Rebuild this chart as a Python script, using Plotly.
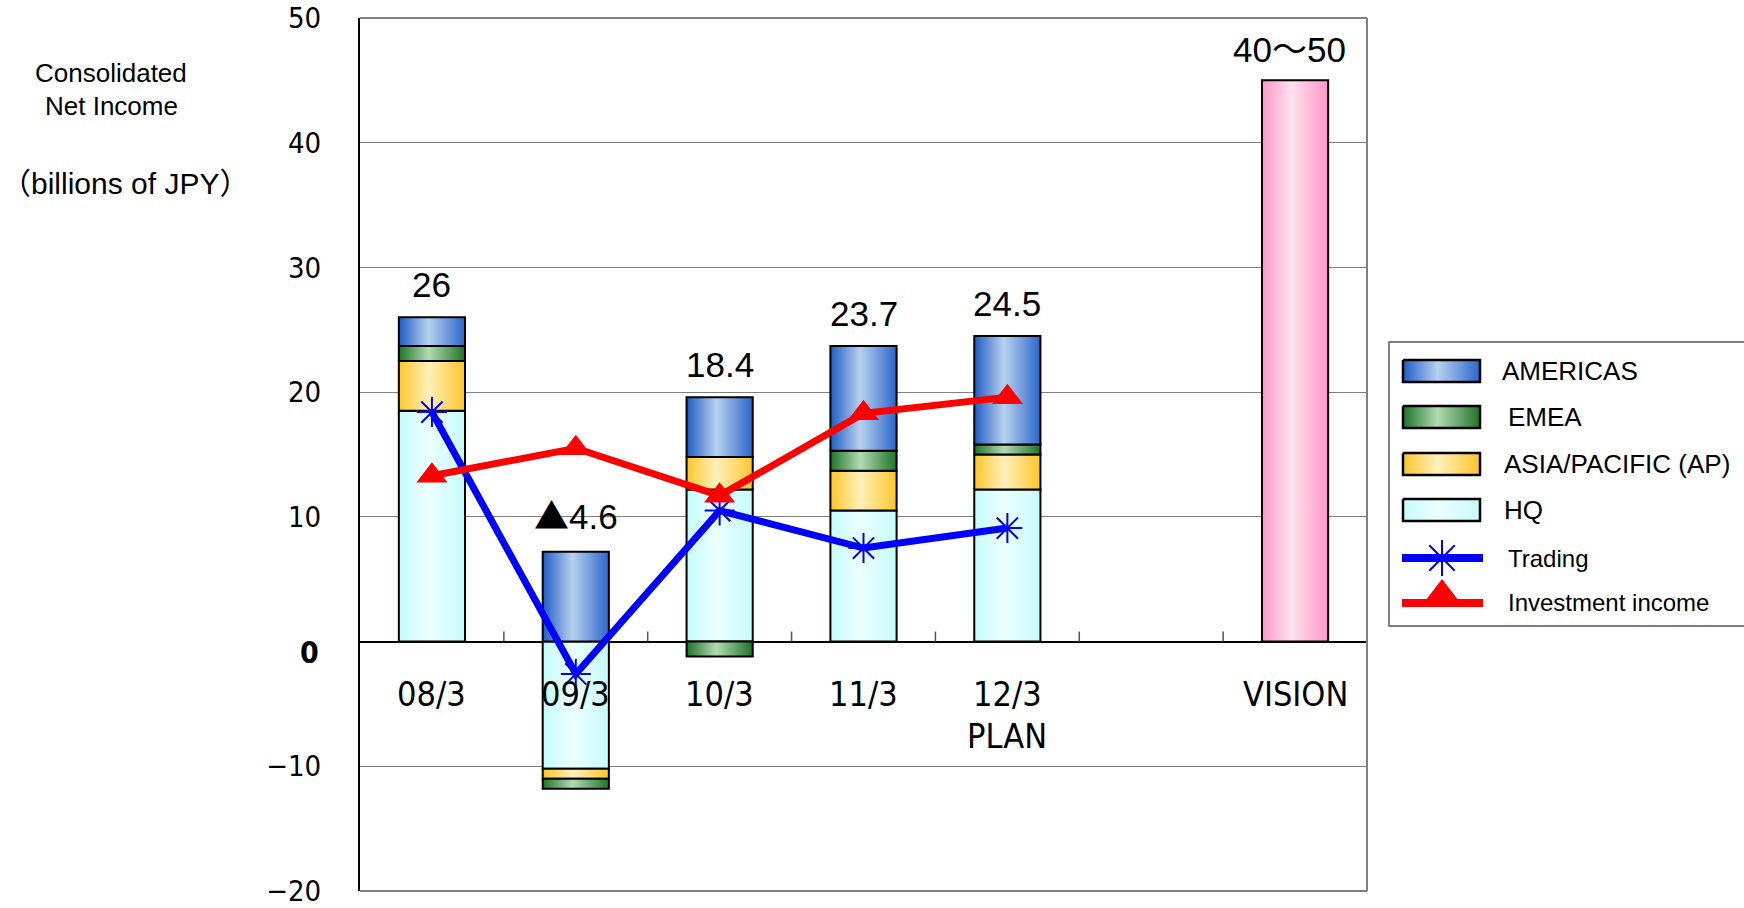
import plotly.graph_objects as go

# ---- data -----------------------------------------------------------------
categories = ["08/3", "09/3", "10/3", "11/3", "12/3", "", "VISION"]
sub_labels = ["", "", "", "", "PLAN", "", ""]

# regional contribution to consolidated net income (billions of JPY)
hq = [18.5, -10.2, 12.2, 10.5, 12.2]
asia_pac = [4.0, -0.8, 2.6, 3.2, 2.8]
emea = [1.2, -0.8, -1.2, 1.6, 0.8]
americas = [2.3, 7.2, 4.8, 8.4, 8.7]

trading = [18.4, -2.6, 10.5, 7.5, 9.1]
investment_income = [13.3, 15.5, 11.7, 18.3, 19.6]

vision_low, vision_high = 40, 50

y_ticks = [-20, -10, 0, 10, 20, 30, 40, 50]

# ---- styling --------------------------------------------------------------
FONT_UI = "Liberation Sans, Arial, Noto Sans CJK JP, sans-serif"
FONT_NARROW = ("Liberation Sans Narrow, Arial Narrow, DejaVu Sans Condensed, "
               "Liberation Sans, sans-serif")
BAR_W = 0.46

# plot area in page pixels
PLOT_L, PLOT_R, PLOT_T, PLOT_B = 360, 1367, 18, 891
PAGE_W, PAGE_H = 1744, 908

SCALES = {
    "AMERICAS": [[0, "#1f5cc6"], [0.45, "#b8d1ee"], [1, "#2a66cc"]],
    "EMEA": [[0, "#1e7428"], [0.45, "#b3dab3"], [1, "#1e7428"]],
    "ASIA/PACIFIC (AP)": [[0, "#ffc62a"], [0.45, "#fff0bc"], [1, "#ffc62a"]],
    "HQ": [[0, "#c6fbfb"], [0.45, "#ecffff"], [1, "#c6fbfb"]],
    "VISION": [[0, "#ff97c8"], [0.45, "#ffe2ef"], [1, "#ff97c8"]],
}

# stacking order from the axis outwards
stack = [("HQ", hq), ("ASIA/PACIFIC (AP)", asia_pac), ("EMEA", emea),
         ("AMERICAS", americas)]


def rect_trace(x0, x1, y0, y1, scale, xaxis="x", yaxis="y", lw=2):
    return go.Scatter(
        x=[x0, x1, x1, x0, x0], y=[y0, y0, y1, y1, y0],
        xaxis=xaxis, yaxis=yaxis, mode="lines", fill="toself",
        fillgradient=dict(type="horizontal", colorscale=scale),
        line=dict(color="black", width=lw),
        hoverinfo="skip", showlegend=False,
    )


fig = go.Figure()
annotations = []

# stacked regional bars
for i in range(len(hq)):
    pos_cum, neg_cum = 0.0, 0.0
    for name, values in stack:
        v = values[i]
        if v >= 0:
            base, pos_cum = pos_cum, pos_cum + v
        else:
            base, neg_cum = neg_cum, neg_cum + v
        fig.add_trace(rect_trace(i - BAR_W / 2, i + BAR_W / 2, base, base + v,
                                 SCALES[name]))
    total = round(sum(values[i] for _, values in stack), 1)
    txt = f"{abs(total):g}"
    if total < 0:
        txt = ("<span style='font-family:Noto Sans CJK JP'>▲</span>" + txt)
    annotations.append(dict(x=i, y=pos_cum, xref="x", yref="y", text=txt,
                            showarrow=False, yanchor="bottom", yshift=11,
                            font=dict(family=FONT_UI, size=35, color="black")))

# long-term vision bar
vision_x = categories.index("VISION")
vision_mid = (vision_low + vision_high) / 2
fig.add_trace(rect_trace(vision_x - BAR_W / 2, vision_x + BAR_W / 2, 0,
                         vision_mid, SCALES["VISION"]))
annotations.append(dict(x=vision_x, y=vision_mid, xref="x", yref="y",
                        text=f"{vision_low}～{vision_high}", showarrow=False,
                        yanchor="bottom", yshift=9, xshift=-6,
                        font=dict(family=FONT_UI, size=35, color="black")))

# lines
xs = list(range(len(trading)))
fig.add_trace(go.Scatter(
    x=xs, y=trading, mode="lines+markers", name="Trading",
    line=dict(color="#0000ff", width=7),
    marker=dict(symbol="asterisk-open", size=25, color="#0000ff",
                line=dict(color="#0000ff", width=2)),
    showlegend=False, hoverinfo="skip"))
fig.add_trace(go.Scatter(
    x=xs, y=investment_income, mode="lines+markers", name="Investment income",
    line=dict(color="#ff0000", width=7),
    marker=dict(symbol="triangle-up", size=27, color="#ff0000"),
    showlegend=False, hoverinfo="skip"))

# category labels under the zero line
for i, (lab, sub) in enumerate(zip(categories, sub_labels)):
    if lab:
        annotations.append(dict(x=i, y=694, xref="x", yref="y2", text=lab,
                                showarrow=False, yanchor="middle",
                                font=dict(family=FONT_NARROW, size=34,
                                          color="black")))
    if sub:
        annotations.append(dict(x=i, y=736, xref="x", yref="y2", text=sub,
                                showarrow=False, yanchor="middle",
                                font=dict(family=FONT_NARROW, size=34,
                                          color="black")))

# bold zero tick label
annotations.append(dict(x=321, y=652, xref="x2", yref="y2", text="<b>0</b>",
                        showarrow=False, xanchor="right", yanchor="middle",
                        font=dict(family=FONT_NARROW, size=30, color="black")))

# y-axis caption
for txt, x, y, size in [("Consolidated", 111, 73, 26),
                        ("Net Income", 111, 106, 26),
                        ("（billions of JPY）", 125, 183, 30)]:
    annotations.append(dict(x=x, y=y, xref="x2", yref="y2", text=txt,
                            showarrow=False, xanchor="center",
                            yanchor="middle",
                            font=dict(family=FONT_UI, size=size,
                                      color="black")))

# legend
shapes = [dict(type="rect", xref="x2", yref="y2", x0=1389, x1=1760, y0=342,
               y1=626, line=dict(color="#555555", width=1.5),
               fillcolor="white", layer="below")]
legend_rows = [("AMERICAS", 371, 1500), ("EMEA", 417, 1506),
               ("ASIA/PACIFIC (AP)", 464, 1502), ("HQ", 510, 1502)]
for name, yy, tx in legend_rows:
    fig.add_trace(rect_trace(1403, 1480, yy - 11, yy + 11, SCALES[name],
                             xaxis="x2", yaxis="y2", lw=2.5))
    annotations.append(dict(x=tx, y=yy, xref="x2", yref="y2", text=name,
                            showarrow=False, xanchor="left", yanchor="middle",
                            font=dict(family=FONT_UI, size=26,
                                      color="black")))

fig.add_trace(go.Scatter(
    x=[1402, 1442, 1483], y=[558, 558, 558], xaxis="x2", yaxis="y2",
    mode="lines", line=dict(color="#0000ff", width=8),
    showlegend=False, hoverinfo="skip"))
fig.add_trace(go.Scatter(
    x=[1442], y=[558], xaxis="x2", yaxis="y2", mode="markers",
    marker=dict(symbol="asterisk-open", size=30, color="#0000ff",
                line=dict(color="#0000ff", width=2)),
    showlegend=False, hoverinfo="skip"))
fig.add_trace(go.Scatter(
    x=[1402, 1442, 1483], y=[603, 603, 603], xaxis="x2", yaxis="y2",
    mode="lines", line=dict(color="#ff0000", width=8),
    showlegend=False, hoverinfo="skip"))
fig.add_trace(go.Scatter(
    x=[1442], y=[597], xaxis="x2", yaxis="y2", mode="markers",
    marker=dict(symbol="triangle-up", size=36, color="#ff0000"),
    showlegend=False, hoverinfo="skip"))
for txt, yy in [("Trading", 558), ("Investment income", 602)]:
    annotations.append(dict(x=1506, y=yy, xref="x2", yref="y2", text=txt,
                            showarrow=False, xanchor="left", yanchor="middle",
                            font=dict(family=FONT_UI, size=24,
                                      color="black")))

# plot frame (top, right, bottom) and category ticks on the zero line
frame = dict(color="#808080", width=2)
shapes += [
    dict(type="line", xref="x domain", yref="y domain", x0=0, x1=1, y0=1,
         y1=1, line=frame),
    dict(type="line", xref="x domain", yref="y domain", x0=1, x1=1, y0=0,
         y1=1, line=frame),
    dict(type="line", xref="x domain", yref="y domain", x0=0, x1=1, y0=0,
         y1=0, line=frame),
]
for k in range(len(categories) - 1):
    shapes.append(dict(type="line", xref="x", yref="y", x0=k + 0.5,
                       x1=k + 0.5, y0=0, y1=0.8,
                       line=dict(color="#555555", width=1.5)))

fig.update_layout(
    width=PAGE_W, height=PAGE_H,
    margin=dict(l=0, r=0, t=0, b=0, autoexpand=False),
    paper_bgcolor="white", plot_bgcolor="rgba(0,0,0,0)",
    showlegend=False,
    xaxis=dict(domain=[PLOT_L / PAGE_W, PLOT_R / PAGE_W], range=[-0.5, 6.5],
               showgrid=False, zeroline=False, showticklabels=False,
               showline=False, ticks=""),
    yaxis=dict(domain=[(PAGE_H - PLOT_B) / PAGE_H,
                       (PAGE_H - PLOT_T) / PAGE_H],
               range=[-20, 50], tickvals=y_ticks,
               ticktext=["" if v == 0 else str(v).replace("-", "−")
                         for v in y_ticks],
               showgrid=True, gridcolor="#808080", gridwidth=1,
               zeroline=True, zerolinecolor="black", zerolinewidth=2,
               showline=True, linecolor="black", linewidth=2, ticks="",
               ticklabelstandoff=31, ticklabeloverflow="allow",
               automargin=False,
               tickfont=dict(family=FONT_NARROW, size=29, color="black")),
    xaxis2=dict(domain=[0, 1], range=[0, PAGE_W], anchor="y2", visible=False),
    yaxis2=dict(domain=[0, 1], range=[PAGE_H, 0], anchor="x2", visible=False),
    annotations=annotations,
    shapes=shapes,
)

fig.write_html("out.html")
